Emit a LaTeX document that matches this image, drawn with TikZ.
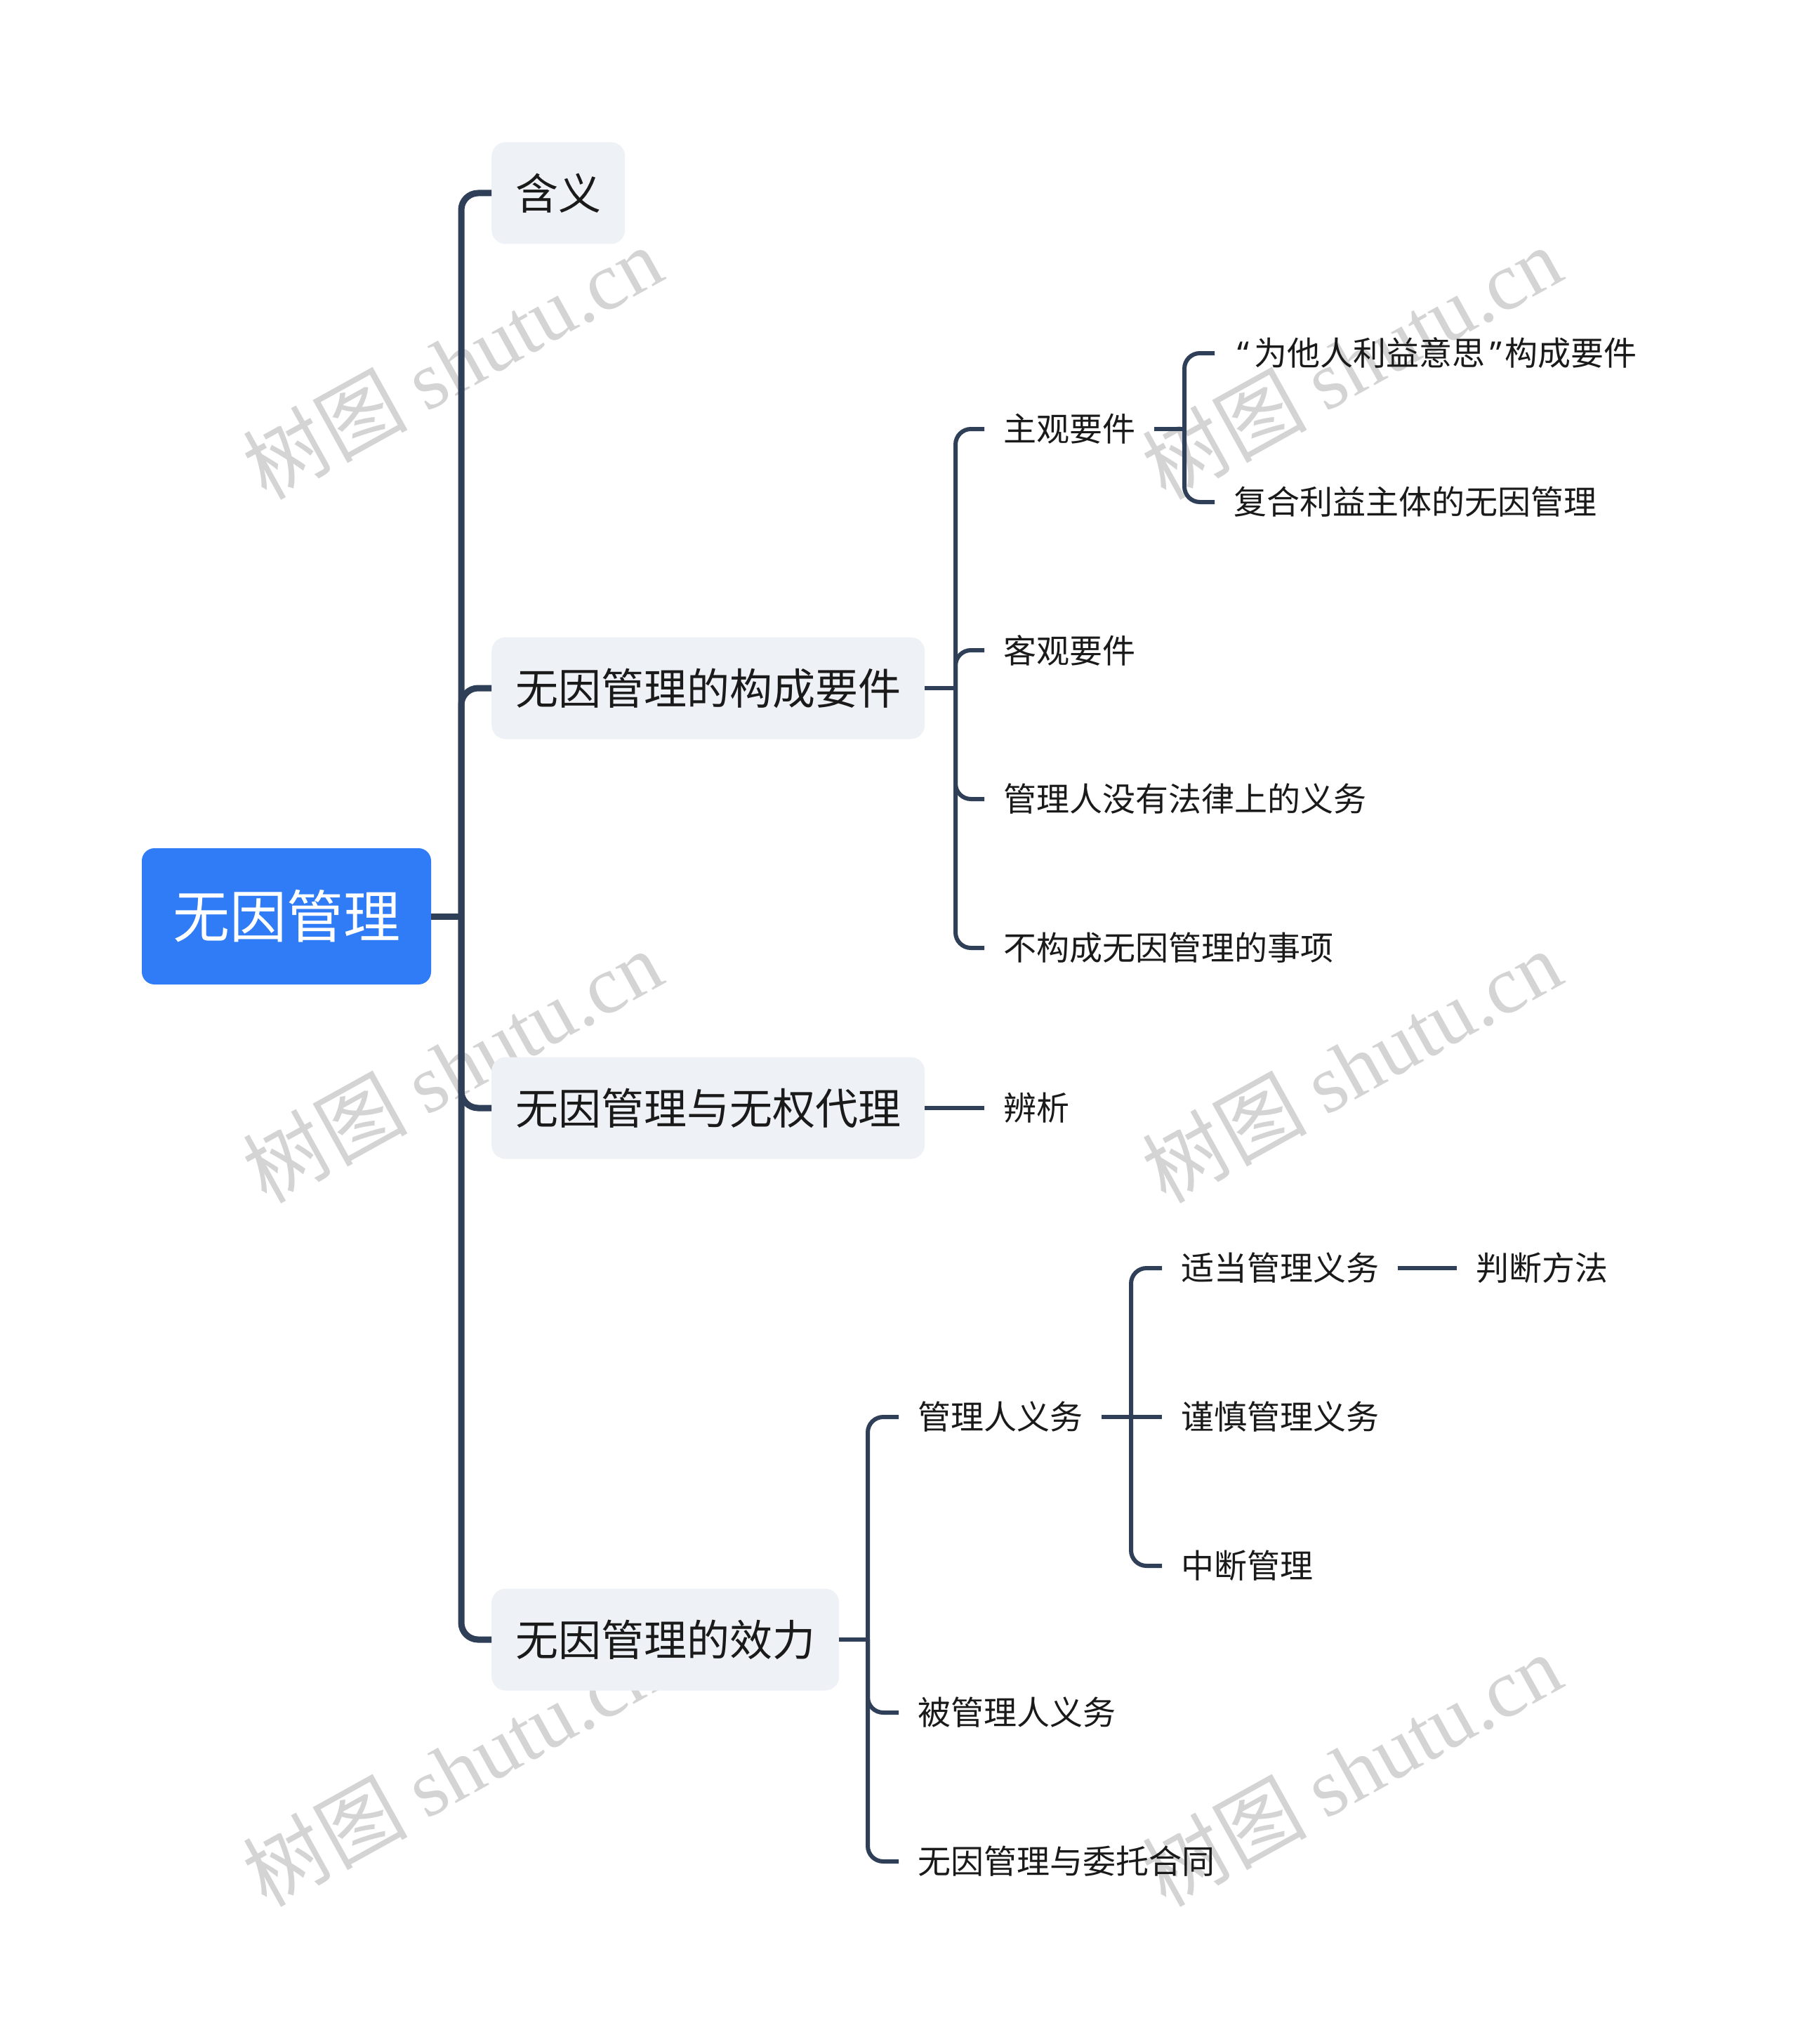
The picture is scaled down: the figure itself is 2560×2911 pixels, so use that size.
\documentclass[tikz,border=0pt]{standalone}
\usepackage{fontspec}
\setmainfont{Noto Sans CJK SC}
\newfontfamily\cjk{Noto Sans CJK SC}
\newfontfamily\latq{Noto Sans}
\newfontfamily\wmlat{Liberation Serif}
\definecolor{rootblue}{HTML}{2F7CF6}
\definecolor{boxgray}{HTML}{EEF1F5}
\definecolor{linec}{HTML}{2E3F57}
\definecolor{txt}{HTML}{1A1A1A}
\definecolor{wmgray}{HTML}{D4D4D4}
\tikzset{
  rootbox/.style={fill=rootblue, rounded corners=18pt, text=white,
    font=\fontsize{81}{90}\selectfont, minimum width=412pt, minimum height=194pt, inner sep=0pt},
  lonebox/.style={fill=boxgray, rounded corners=20pt, text=txt,
    font=\fontsize{61}{70}\selectfont, minimum height=145pt, inner xsep=34pt, inner ysep=0pt, anchor=west},
  leaf/.style={text=txt, font=\fontsize{47}{55}\selectfont, inner xsep=27pt, inner ysep=0pt, anchor=west},
  trunk/.style={draw=linec, line width=9pt, rounded corners=24pt},
  branch/.style={draw=linec, line width=6pt, rounded corners=22pt},
  wm/.style={text=wmgray, rotate=29, font=\fontsize{117}{120}\selectfont, inner sep=0pt}
}
\begin{document}
\begin{tikzpicture}[x=1pt,y=-1pt]
\useasboundingbox (0,0) rectangle (2560,2911);
\fill[white] (0,0) rectangle (2560,2911);
% watermarks
\foreach \wx in {644,1925}{
  \foreach \wy in {516,1518,2520}{
    \node[wm] at (\wx,\wy) {树图 {\wmlat shutu.cn}};
  }
}
% root and level 1
\node[rootbox] (root) at (408,1305) {无因管理};
\node[lonebox] (hanyi) at (700,275) {含义};
\node[lonebox] (gc) at (700,980) {无因管理的构成要件};
\node[lonebox] (wq) at (700,1578) {无因管理与无权代理};
\node[lonebox] (xl) at (700,2335) {无因管理的效力};
% level 2 / 3
\node[leaf] (zg) at (1402,611) {主观要件};
\node[leaf] (kg) at (1402,926) {客观要件};
\node[leaf] (gl) at (1402,1138) {管理人没有法律上的义务};
\node[leaf] (bg) at (1402,1350) {不构成无因管理的事项};
\node[leaf] (wt) at (1730,503) {{\latq\hspace{5pt}“\hspace{7pt}}为他人利益意思{\latq\hspace{7pt}”\hspace{5pt}}构成要件};
\node[leaf] (fh) at (1730,715) {复合利益主体的无因管理};
\node[leaf] (bx) at (1402,1578) {辨析};
\node[leaf] (gy) at (1280,2018) {管理人义务};
\node[leaf] (bgy) at (1280,2439) {被管理人义务};
\node[leaf] (wt2) at (1280,2651) {无因管理与委托合同};
\node[leaf] (sd) at (1655,1806) {适当管理义务};
\node[leaf] (js) at (1655,2018) {谨慎管理义务};
\node[leaf] (zd) at (1655,2230) {中断管理};
\node[leaf] (pd) at (2075,1806) {判断方法};
% junction points
\coordinate (t0) at (657,1305);
\coordinate (t1) at (1361,980);
\coordinate (t2) at (1687,611);
\coordinate (t3) at (1236,2335);
\coordinate (t4) at (1611,2018);
% connectors
\draw[trunk] (root.east) -- (t0);
\foreach \c in {hanyi,gc,wq,xl}{ \draw[trunk] (t0) |- (\c.west); }
\draw[branch] (gc.east) -- (t1);
\foreach \c in {zg,kg,gl,bg}{ \draw[branch] (t1) |- (\c.west); }
\draw[branch] (zg.east) -- (t2);
\foreach \c in {wt,fh}{ \draw[branch] (t2) |- (\c.west); }
\draw[branch] (wq.east) -- (bx.west);
\draw[branch] (xl.east) -- (t3);
\foreach \c in {gy,bgy,wt2}{ \draw[branch] (t3) |- (\c.west); }
\draw[branch] (gy.east) -- (t4);
\foreach \c in {sd,zd}{ \draw[branch] (t4) |- (\c.west); }
\draw[branch] (t4) -- (js.west);
\draw[branch] (sd.east) -- (pd.west);
\end{tikzpicture}
\end{document}
